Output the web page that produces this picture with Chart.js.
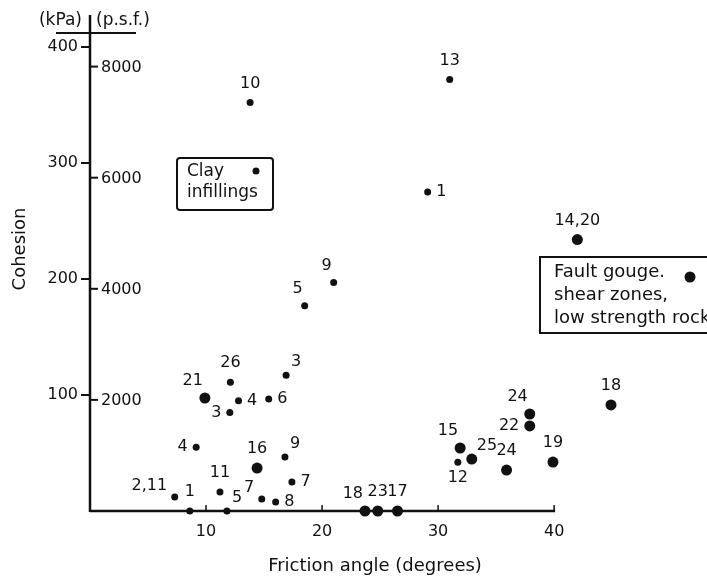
<!DOCTYPE html>
<html>
<head>
<meta charset="utf-8">
<title>Cohesion vs friction angle of filled discontinuities</title>
<script src="https://cdn.jsdelivr.net/npm/chart.js@4/dist/chart.umd.min.js"></script>
<style>
  html, body { margin: 0; padding: 0; background: #fff; }
  #wrap { position: relative; width: 707px; height: 581px; }
</style>
</head>
<body>
<div id="wrap"><canvas id="chart"></canvas></div>
<script>
// axis ticks
const xTicks = [10, 20, 30, 40];
const kpaTicks = [100, 200, 300, 400];
const psfTicks = [2000, 4000, 6000, 8000];
const PSF_PER_KPA = 20.885;

// clay infillings (small dots)
const clayAngle    = [13.8, 31.0, 29.1, 21.0, 18.5, 12.1, 16.9, 12.8, 15.4, 12.05, 9.15, 16.8, 17.4, 11.2, 14.8, 16.0, 8.6, 11.8, 7.3, 31.7];
const clayCohesion = [352, 372, 275, 197, 177, 111, 117, 95, 96.6, 85, 55, 46.5, 25, 16.4, 10.3, 7.8, 0, 0, 12, 42];
const clayLabels   = ['10', '13', '1', '9', '5', '26', '3', '4', '6', '3', '4', '9', '7', '11', '7', '8', '1', '5', '2,11', '12'];
const clayLabelPos = ['N', 'N', 'E', 'NW', 'NW', 'N', 'NE', 'E', 'E', 'W', 'W', 'NE', 'E', 'N', 'WNW', 'E', 'N', 'NE', 'WNW', 'S'];

// fault gouge, shear zones, low strength rock (large dots)
const faultAngle    = [42.0, 44.9, 37.9, 37.9, 31.9, 32.9, 35.9, 39.9, 23.7, 24.8, 26.5, 9.9, 14.4];
const faultCohesion = [234, 91.4, 83.6, 73.3, 54.3, 44.8, 35.3, 42.2, 0, 0, 0, 97.4, 37];
const faultLabels   = ['14,20', '18', '24', '22', '15', '25', '24', '19', '18', '23', '17', '21', '16'];
const faultLabelPos = ['N', 'N', 'NW', 'W', 'NW', 'NE', 'N', 'N', 'NW', 'N', 'N', 'NW', 'N'];

const INK = '#111';
const FONT = 'DejaVu Sans';

Chart.defaults.font.family = FONT;
Chart.defaults.font.size = 16;
Chart.defaults.color = INK;

const toPoints = (xs, ys) => xs.map((x, i) => ({ x, y: ys[i] }));

const pointLabelPlugin = {
  id: 'pointLabels',
  afterDatasetsDraw(chart) {
    const ctx = chart.ctx;
    ctx.save();
    ctx.fillStyle = INK;
    ctx.font = `16px "${FONT}"`;
    ctx.textBaseline = 'middle';
    chart.data.datasets.forEach((ds, i) => {
      const meta = chart.getDatasetMeta(i);
      const r = ds.pointRadius;
      meta.data.forEach((pt, j) => {
        const text = ds.labels[j];
        let dx = 0, dy = 0, align = 'center';
        switch (ds.labelPos[j]) {
          case 'N': dy = -19; break;
          case 'S': dy = 16; break;
          case 'E': dx = r + 5; align = 'left'; break;
          case 'W': dx = -(r + 5); align = 'right'; break;
          case 'WNW': dx = -(r + 4); dy = -11; align = 'right'; break;
          case 'NE': dx = 5; dy = -13; align = 'left'; break;
          case 'NW': dx = -2; dy = -17; align = 'right'; break;
        }
        ctx.textAlign = align;
        ctx.fillText(text, pt.x + dx, pt.y + dy);
      });
    });
    ctx.restore();
  },
};

const axesPlugin = {
  id: 'axesDecor',
  afterDraw(chart) {
    const { ctx, chartArea: a } = chart;
    const xs = chart.scales.x;
    const ys = chart.scales.y;
    ctx.save();
    ctx.strokeStyle = INK;
    ctx.fillStyle = INK;
    ctx.lineCap = 'butt';

    // vertical axis, running up through the header line
    ctx.lineWidth = 2.5;
    ctx.beginPath();
    ctx.moveTo(a.left, a.top - 18);
    ctx.lineTo(a.left, a.bottom + 1);
    ctx.stroke();

    // header rule
    ctx.lineWidth = 2;
    ctx.beginPath();
    ctx.moveTo(a.left - 34, a.top);
    ctx.lineTo(a.left + 46, a.top);
    ctx.stroke();

    // horizontal axis up to 40 degrees
    const xEnd = xs.getPixelForValue(xTicks[xTicks.length - 1]);
    ctx.lineWidth = 2.5;
    ctx.beginPath();
    ctx.moveTo(a.left, a.bottom);
    ctx.lineTo(xEnd + 1, a.bottom);
    ctx.stroke();
    ctx.lineWidth = 1.5;
    xTicks.forEach(v => {
      const px = xs.getPixelForValue(v);
      ctx.beginPath();
      ctx.moveTo(px, a.bottom);
      ctx.lineTo(px, a.bottom - 6);
      ctx.stroke();
    });

    // p.s.f. scale on the inner side of the axis
    ctx.lineWidth = 2;
    ctx.font = `16px "${FONT}"`;
    ctx.textAlign = 'left';
    ctx.textBaseline = 'middle';
    psfTicks.forEach(v => {
      const py = ys.getPixelForValue(v / PSF_PER_KPA);
      ctx.beginPath();
      ctx.moveTo(a.left, py);
      ctx.lineTo(a.left + 8, py);
      ctx.stroke();
      ctx.fillText(String(v), a.left + 11, py + 1);
    });

    // unit headers
    ctx.font = `17px "${FONT}"`;
    ctx.textAlign = 'right';
    ctx.fillText('(kPa)', a.left - 8, a.top - 12);
    ctx.textAlign = 'left';
    ctx.fillText('(p.s.f.)', a.left + 6, a.top - 12);

    // axis titles
    ctx.font = `18px "${FONT}"`;
    ctx.textAlign = 'center';
    ctx.fillText('Friction angle (degrees)', 375, 566);
    ctx.save();
    ctx.translate(20, 249);
    ctx.rotate(-Math.PI / 2);
    ctx.fillText('Cohesion', 0, 0);
    ctx.restore();

    // legend boxes
    ctx.lineWidth = 2;
    ctx.font = `17px "${FONT}"`;
    ctx.textAlign = 'left';
    ctx.beginPath();
    ctx.roundRect(177, 158, 96, 52, 3);
    ctx.stroke();
    ctx.fillText('Clay', 187, 172);
    ctx.fillText('infillings', 187, 193);
    ctx.beginPath();
    ctx.arc(256, 171, chart.data.datasets[0].pointRadius, 0, Math.PI * 2);
    ctx.fill();

    ctx.beginPath();
    ctx.rect(540, 257, 180, 76);
    ctx.stroke();
    ctx.font = `18px "${FONT}"`;
    ctx.fillText('Fault gouge.', 554, 272);
    ctx.fillText('shear zones,', 554, 295);
    ctx.fillText('low strength rock', 554, 318);
    ctx.beginPath();
    ctx.arc(690, 277, chart.data.datasets[1].pointRadius, 0, Math.PI * 2);
    ctx.fill();

    ctx.restore();
  },
};

new Chart(document.getElementById('chart'), {
  type: 'scatter',
  data: {
    datasets: [
      {
        label: 'Clay infillings',
        data: toPoints(clayAngle, clayCohesion),
        labels: clayLabels,
        labelPos: clayLabelPos,
        pointRadius: 3.5,
        pointBackgroundColor: INK,
        pointBorderWidth: 0,
        clip: false,
      },
      {
        label: 'Fault gouge, shear zones, low strength rock',
        data: toPoints(faultAngle, faultCohesion),
        labels: faultLabels,
        labelPos: faultLabelPos,
        pointRadius: 5.5,
        pointBackgroundColor: INK,
        pointBorderWidth: 0,
        clip: false,
      },
    ],
  },
  options: {
    responsive: true,
    maintainAspectRatio: false,
    animation: false,
    layout: { padding: { top: 33, right: 0, bottom: 0, left: 0 } },
    scales: {
      x: {
        type: 'linear',
        min: 0,
        max: 52.7,
        afterBuildTicks: s => { s.ticks = xTicks.map(v => ({ value: v })); },
        afterFit: s => { s.height = 70; },
        grid: { display: false, drawTicks: false },
        border: { display: false },
        ticks: { padding: 11, font: { size: 16 }, color: INK, maxRotation: 0 },
      },
      y: {
        type: 'linear',
        min: 0,
        max: 412,
        afterBuildTicks: s => { s.ticks = kpaTicks.map(v => ({ value: v })); },
        afterFit: s => { s.width = 90; },
        grid: { display: true, drawOnChartArea: false, drawTicks: true, tickLength: 9, color: INK, lineWidth: 2 },
        border: { display: false },
        ticks: { padding: 3, font: { size: 16 }, color: INK },
      },
    },
    plugins: {
      legend: { display: false },
      tooltip: { enabled: false },
    },
  },
  plugins: [pointLabelPlugin, axesPlugin],
});
</script>
</body>
</html>
